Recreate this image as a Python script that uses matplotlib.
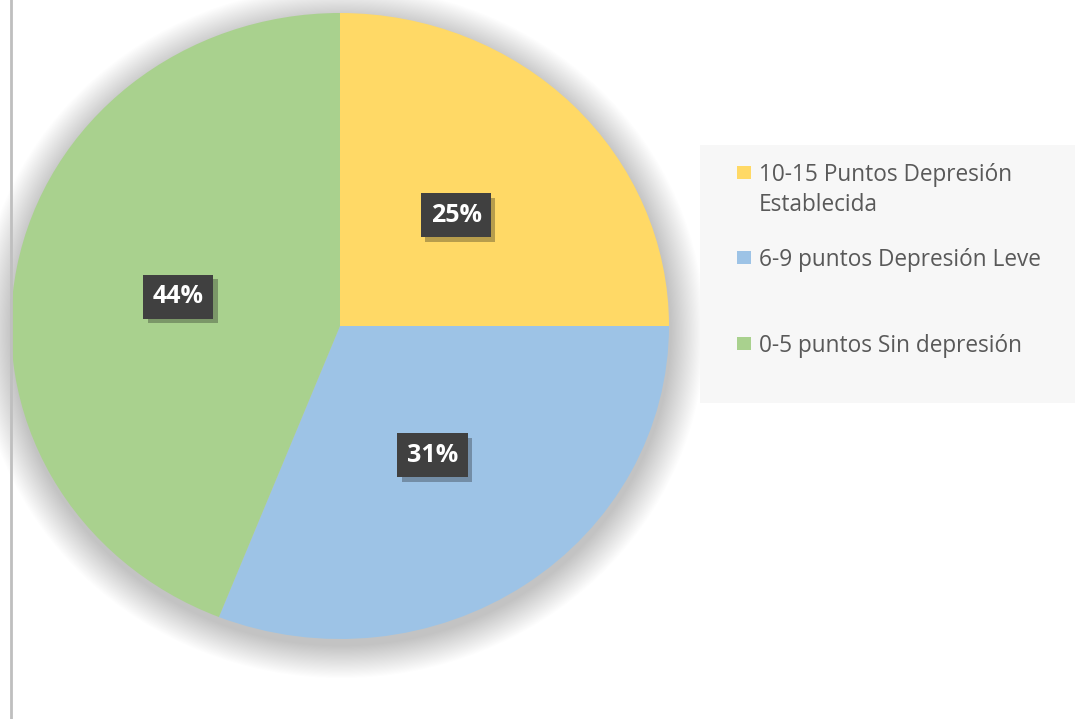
import numpy as np
import matplotlib
matplotlib.use("Agg")
import matplotlib.pyplot as plt
from matplotlib.patches import Ellipse, Rectangle
import matplotlib.patheffects as pe

# respuestas por nivel de depresion
labels = ["10-15 Puntos Depresión\nEstablecida", "6-9 puntos Depresión Leve", "0-5 puntos Sin depresión"]
values = [25, 31, 44]
colors = ["#FFD966", "#9DC3E6", "#A9D18E"]

plt.rcParams['font.family'] = ['Open Sans', 'DejaVu Sans']

fig = plt.figure(figsize=(10.75, 7.19), dpi=100)
W, H = 1075, 719

# pie slightly wider than tall, like the original
ax = fig.add_axes([11 / W, 1 - 639 / H, 658 / W, 626 / H])

# soft shadow round the pie
for i in range(30):
    r = 1.0 + 0.0035 * (i + 1)
    ax.add_patch(Ellipse((0.004, -0.02), 2 * r, 2 * r, color="black", alpha=0.0065,
                         lw=0, clip_on=False, zorder=0))

wedges, texts, autotexts = ax.pie(values, colors=colors, startangle=90, counterclock=False,
                                  autopct="%d%%", pctdistance=0.5,
                                  wedgeprops=dict(linewidth=0), radius=1.0)
ax.set_aspect("auto")
ax.set_xlim(-1, 1)
ax.set_ylim(-1, 1)
ax.axis("off")

for t in autotexts:
    t.set_color("white")
    t.set_fontsize(18)
    t.set_fontweight("bold")
    t.set_bbox(dict(boxstyle="square,pad=0.38", facecolor="#404040", edgecolor="none"))
    t.get_bbox_patch().set_path_effects([pe.SimplePatchShadow(offset=(3, -3), alpha=0.3),
                                         pe.Normal()])

# left border line
fig.add_artist(plt.Line2D([10.5 / W, 10.5 / W], [0, 1], color="#bfbfbf", lw=2))

# legend panel
fig.add_artist(Rectangle((700 / W, 1 - 403 / H), 375 / W, 258 / H,
                         facecolor="#f7f7f7", edgecolor="none", transform=fig.transFigure))

leg_y = [181, 266, 352]  # baseline of the first line
for lab, col, y in zip(labels, colors, leg_y):
    fig.add_artist(Rectangle((737 / W, 1 - (y - 2) / H), 14 / W, 13 / H,
                             facecolor=col, edgecolor="none", transform=fig.transFigure))
    lines = lab.split("\n")
    for k, line in enumerate(lines):
        fig.text(759 / W, 1 - (y + 30 * k) / H, line, fontsize=16.3, color="#595959",
                 va="baseline", ha="left")

plt.savefig("out.png", dpi=100)
